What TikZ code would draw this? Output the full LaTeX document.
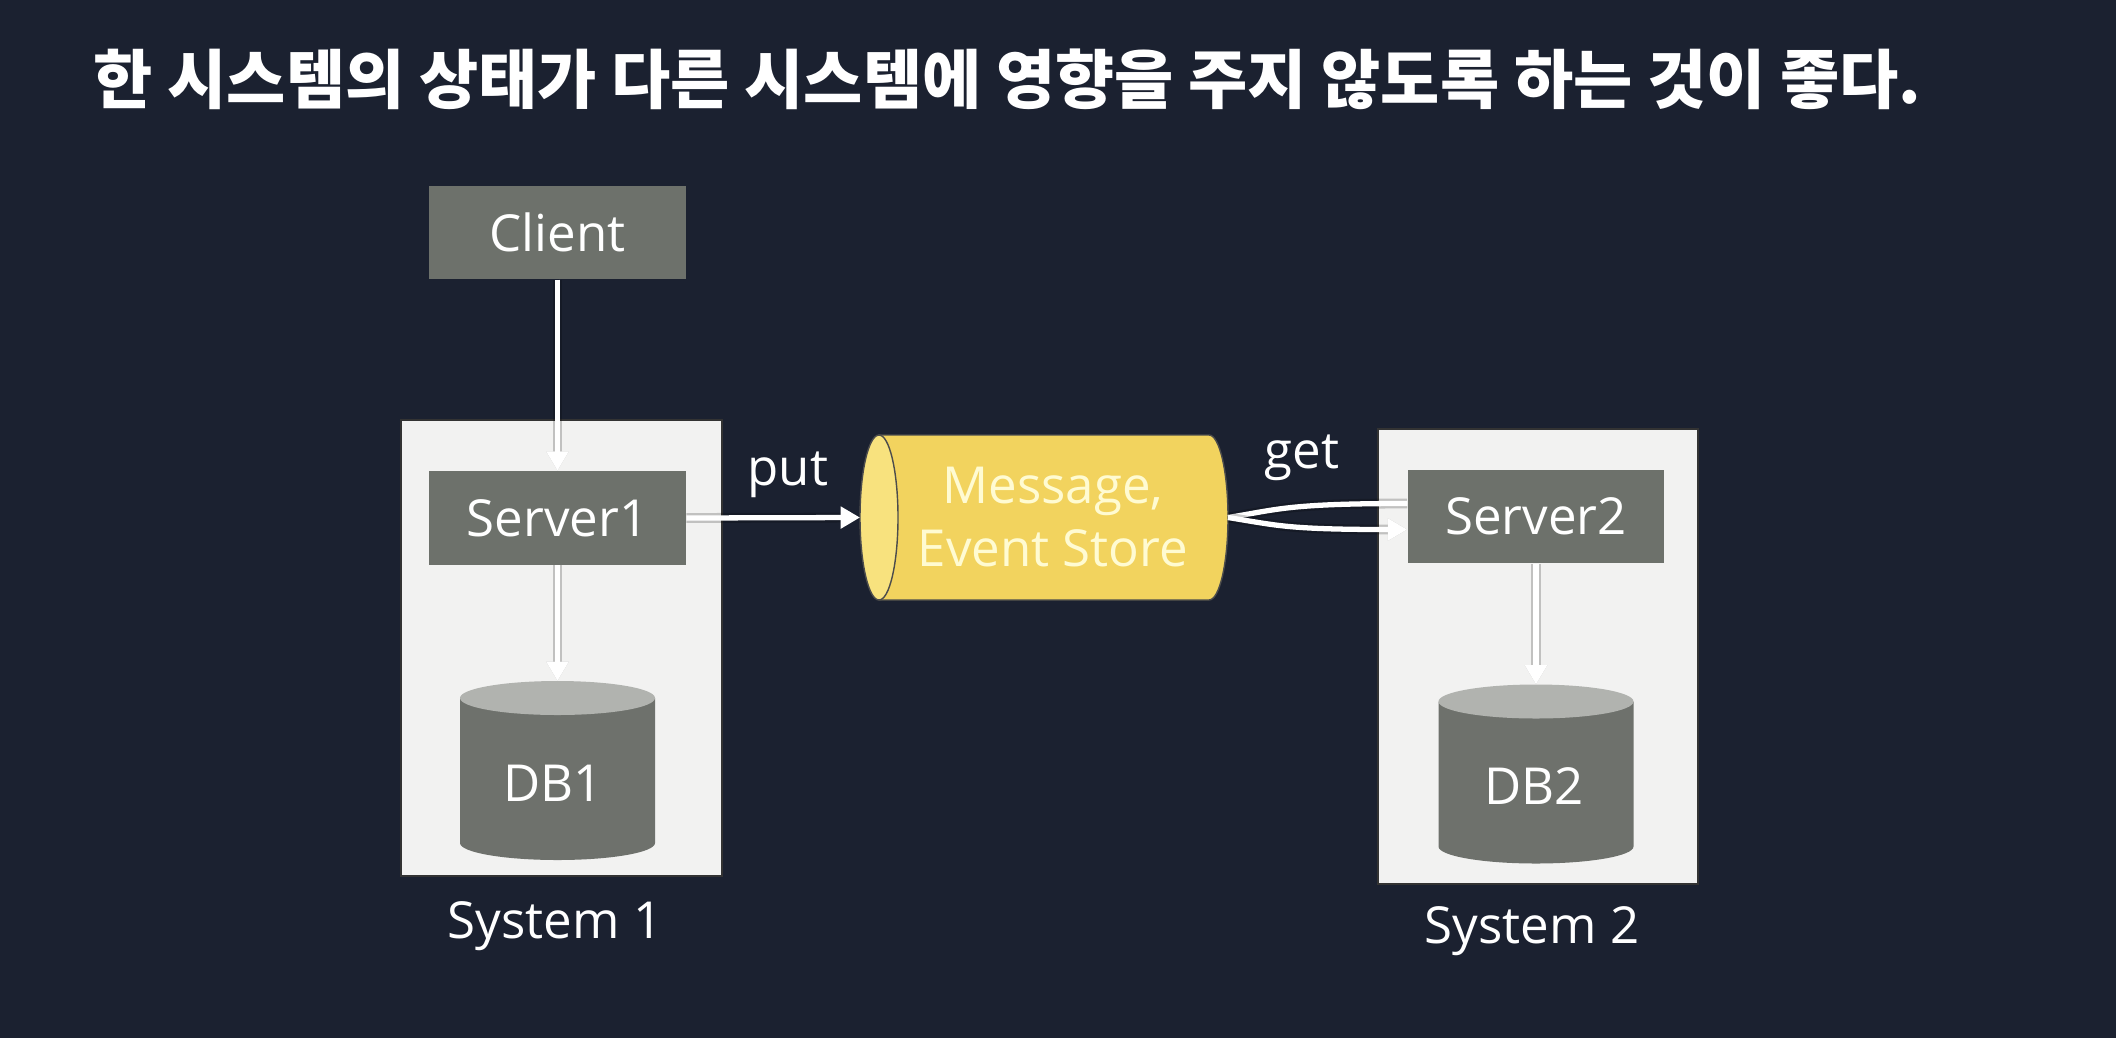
\documentclass[tikz,border=0pt]{standalone}
\usepackage{fontspec}
\setmainfont{Open Sans}
\newfontfamily\krfont{Noto Sans CJK KR}
\usetikzlibrary{arrows.meta,calc}

\definecolor{bgnavy}{HTML}{1B2130}
\definecolor{sysgray}{HTML}{F2F2F1}
\definecolor{srvgray}{HTML}{6D716B}
\definecolor{dbbody}{HTML}{6E716C}
\definecolor{dbtop}{HTML}{B1B3AF}
\definecolor{storeyel}{HTML}{F2D35E}
\definecolor{storeend}{HTML}{F8E27E}
\definecolor{storetxt}{HTML}{FFFBD2}

\tikzset{
  titletext/.style={anchor=base west, inner sep=0pt, text=white,
    font=\krfont\bfseries\fontsize{18.3}{21}\selectfont},
  sysbox/.style={fill=sysgray, draw=black!80, line width=0.4pt, inner sep=0pt},
  srvbox/.style={fill=srvgray, text=white, minimum width=2.56cm,
    minimum height=0.93cm, inner sep=0pt, font=\fontsize{14.5}{17}\selectfont},
  lbltext/.style={text=white, inner sep=0pt, font=\fontsize{14.5}{17}\selectfont},
  storetext/.style={text=storetxt, inner sep=0pt, align=center,
    font=\fontsize{14.5}{18}\selectfont},
  flow/.style={draw=white, line width=1.5pt, -{Triangle[length=5.5pt,width=6pt]},
    preaction={draw=black, opacity=.2, line width=2.8pt}},
}
\tikzset{
  dbcyl/.pic={
    \fill[dbbody] (-97.5,72.5) -- (-97.5,-72.5)
      arc[start angle=180, end angle=360, x radius=97.5, y radius=17]
      -- (97.5,72.5) -- cycle;
    \fill[dbtop] (0,72.5) ellipse[x radius=97.5, y radius=17];
    \coordinate (-top) at (0,89.5);
  },
  storecyl/.pic={
    \filldraw[fill=storeyel, draw=black!70, line width=.4pt] (-165,82.5) -- (165,82.5)
      arc[start angle=90, end angle=-90, x radius=19, y radius=82.5]
      -- (-165,-82.5) -- cycle;
    \filldraw[fill=storeend, draw=black!70, line width=.4pt]
      (-165,0) ellipse[x radius=19, y radius=82.5];
    \coordinate (-west) at (-184,0);
    \coordinate (-east) at (184,0);
  },
}

\begin{document}
\begin{tikzpicture}[x=0.01cm, y=0.01cm]
  \fill[bgnavy] (0,0) rectangle (2116,1038);
  \useasboundingbox (0,0) rectangle (2116,1038);

  \node[titletext] (title) at (93,935) {한 시스템의 상태가 다른 시스템에 영향을 주지 않도록 하는 것이 좋다.};

  % the two systems
  \node[sysbox, minimum width=3.21cm, minimum height=4.56cm] (sys1) at (561.5,390) {};
  \node[sysbox, minimum width=3.20cm, minimum height=4.55cm] (sys2) at (1538,381.5) {};
  \node[lbltext] (sys1lbl) at (555,112) {System 1};
  \node[lbltext] (sys2lbl) at (1532,107) {System 2};

  \node[srvbox] (client) at (557.5,805.5) {Client};
  \node[srvbox] (srv1) at (557.5,520) {Server1};
  \node[srvbox] (srv2) at (1536,521.5) {Server2};

  \path (557.5,267.5) pic (db1) {dbcyl};
  \path (1536,264) pic (db2) {dbcyl};
  \path (1044,520.5) pic (store) {storecyl};

  \node[lbltext] (db1txt) at (553,255) {DB1};
  \node[lbltext] (db2txt) at (1534,252) {DB2};
  \node[storetext] (storetxt) at (1053,521) {Message,\\Event Store};

  \node[lbltext] (putlbl) at (788,563) {put};
  \node[lbltext] (getlbl) at (1302,580) {get};

  % connectors
  \draw[flow] (client) -- (srv1);
  \draw[flow] (srv1) -- (db1-top);
  \draw[flow] (srv2) -- (db2-top);
  \draw[flow] (srv1.east) -- (store-west);
  \draw[flow, -] ([yshift=3.7pt]srv2.west) .. controls +(-120,0) and +(50,8) .. (store-east);
  \draw[flow] (store-east) .. controls +(50,-8) and +(-120,0) .. ([yshift=-3.7pt]srv2.west);
\end{tikzpicture}
\end{document}
